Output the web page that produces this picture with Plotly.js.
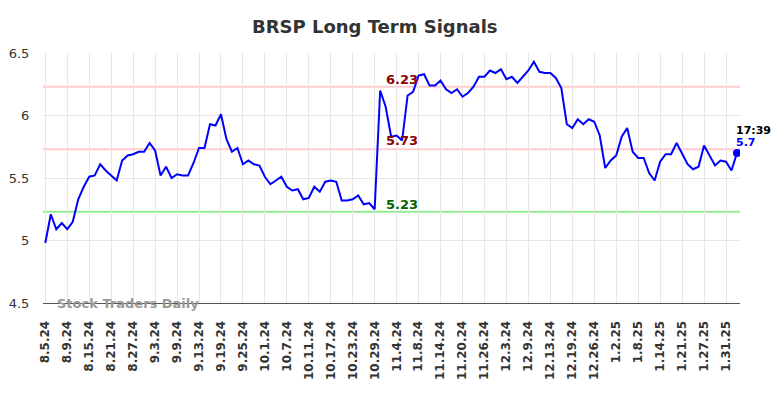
<!DOCTYPE html>
<html>
<head>
<meta charset="utf-8">
<script src="https://cdn.plot.ly/plotly-3.0.1.min.js"></script>
<style>html,body{margin:0;padding:0;background:#fff;}#chart{width:784px;height:398px;}</style>
</head>
<body>
<div id="chart"></div>
<script>
// Trading-day categories
var dates = [
 '8.5.24','8.6.24','8.7.24','8.8.24','8.9.24','8.12.24','8.13.24','8.14.24','8.15.24','8.16.24',
 '8.19.24','8.20.24','8.21.24','8.22.24','8.23.24','8.26.24','8.27.24','8.28.24','8.29.24','8.30.24',
 '9.3.24','9.4.24','9.5.24','9.6.24','9.9.24','9.10.24','9.11.24','9.12.24','9.13.24','9.16.24',
 '9.17.24','9.18.24','9.19.24','9.20.24','9.23.24','9.24.24','9.25.24','9.26.24','9.27.24','9.30.24',
 '10.1.24','10.2.24','10.3.24','10.4.24','10.7.24','10.8.24','10.9.24','10.10.24','10.11.24','10.14.24',
 '10.15.24','10.16.24','10.17.24','10.18.24','10.21.24','10.22.24','10.23.24','10.24.24','10.25.24','10.28.24',
 '10.29.24','10.30.24','10.31.24','11.1.24','11.4.24','11.5.24','11.6.24','11.7.24','11.8.24','11.11.24',
 '11.12.24','11.13.24','11.14.24','11.15.24','11.18.24','11.19.24','11.20.24','11.21.24','11.22.24','11.25.24',
 '11.26.24','11.27.24','11.29.24','12.2.24','12.3.24','12.4.24','12.5.24','12.6.24','12.9.24','12.10.24',
 '12.11.24','12.12.24','12.13.24','12.16.24','12.17.24','12.18.24','12.19.24','12.20.24','12.23.24','12.24.24',
 '12.26.24','12.27.24','12.30.24','12.31.24','1.2.25','1.3.25','1.6.25','1.7.25','1.8.25','1.9.25',
 '1.10.25','1.13.25','1.14.25','1.15.25','1.16.25','1.17.25','1.21.25','1.22.25','1.23.25','1.24.25',
 '1.27.25','1.28.25','1.29.25','1.30.25','1.31.25','2.3.25','2.4.25'
];
var prices = [
 4.98,5.21,5.09,5.14,5.09,5.15,5.33,5.43,5.51,5.52,
 5.61,5.56,5.52,5.48,5.64,5.68,5.69,5.71,5.71,5.78,
 5.72,5.52,5.59,5.50,5.53,5.52,5.52,5.62,5.74,5.74,
 5.93,5.92,6.01,5.81,5.71,5.74,5.61,5.64,5.61,5.60,
 5.51,5.45,5.48,5.51,5.43,5.40,5.41,5.33,5.34,5.43,
 5.39,5.47,5.48,5.47,5.32,5.32,5.33,5.36,5.29,5.30,
 5.25,6.20,6.07,5.83,5.84,5.80,6.16,6.19,6.32,6.33,
 6.24,6.24,6.28,6.21,6.18,6.21,6.15,6.18,6.23,6.31,
 6.31,6.36,6.34,6.37,6.29,6.31,6.26,6.31,6.36,6.43,
 6.35,6.34,6.34,6.30,6.22,5.93,5.90,5.97,5.93,5.97,
 5.95,5.84,5.58,5.64,5.68,5.83,5.90,5.71,5.66,5.66,
 5.54,5.48,5.63,5.69,5.69,5.78,5.70,5.61,5.57,5.59,
 5.76,5.68,5.60,5.64,5.63,5.56,5.70
];
var resistanceHigh = 6.23;
var resistanceMid = 5.73;
var support = 5.23;
var lastTime = '17:39';
var yTicks = [4.5, 5, 5.5, 6, 6.5];
var yTickText = ['4.5', '5', '5.5', '6', '6.5'];
var labelCat = '11.5.24';

var n = prices.length;
var lastDate = dates[n - 1];
var lastPrice = prices[n - 1];

var traces = [
  {x: dates, y: prices, type: 'scatter', mode: 'lines',
   line: {color: '#0000ff', width: 2}, hoverinfo: 'x+y'},
  {x: [lastDate], y: [lastPrice], type: 'scatter', mode: 'markers',
   marker: {color: '#0000ff', size: 8}, hoverinfo: 'x+y'}
];

function hline(v, c) {
  return {type: 'line', xref: 'paper', x0: 0, x1: 1, yref: 'y', y0: v, y1: v,
          line: {color: c, width: 2}, layer: 'below'};
}

var layout = {
  width: 784, height: 398,
  margin: {l: 43, r: 44, t: 53, b: 95},
  paper_bgcolor: '#ffffff', plot_bgcolor: '#ffffff',
  showlegend: false,
  font: {family: 'DejaVu Sans', color: '#333333'},
  title: {text: '<b>BRSP Long Term Signals</b>', x: 0.478, xanchor: 'center',
          y: 0.932, yanchor: 'middle', font: {size: 18, color: '#333333', family: 'DejaVu Sans'}},
  xaxis: {
    type: 'category', range: [-0.42, 126.55],
    tickmode: 'linear', tick0: 0, dtick: 4,
    tickangle: -90, tickfont: {size: 12, color: '#333333', family: 'DejaVu Sans', weight: 'bold'},
    showgrid: true, gridcolor: '#e6e6e6', gridwidth: 1,
    showline: true, linecolor: '#555555', linewidth: 1,
    ticks: 'outside', ticklen: 12, tickcolor: 'rgba(0,0,0,0)',
    zeroline: false, fixedrange: true
  },
  yaxis: {
    range: [4.5, 6.5], tickmode: 'array', tickvals: yTicks, ticktext: yTickText,
    tickfont: {size: 13, color: '#333333', family: 'DejaVu Sans'},
    showgrid: true, gridcolor: '#e6e6e6', gridwidth: 1,
    showline: false, zeroline: false,
    ticks: 'outside', ticklen: 10, tickcolor: 'rgba(0,0,0,0)', fixedrange: true
  },
  shapes: [hline(resistanceHigh, '#ffcccc'), hline(resistanceMid, '#ffcccc'), hline(support, '#90ee90')],
  annotations: [
    {x: labelCat, y: resistanceHigh, xref: 'x', yref: 'y', text: '<b>' + resistanceHigh.toFixed(2) + '</b>',
     showarrow: false, xanchor: 'center', yanchor: 'bottom', yshift: -2,
     font: {size: 13, color: '#8b0000', family: 'DejaVu Sans'}},
    {x: labelCat, y: resistanceMid, xref: 'x', yref: 'y', text: '<b>' + resistanceMid.toFixed(2) + '</b>',
     showarrow: false, xanchor: 'center', yanchor: 'bottom', yshift: -1,
     font: {size: 13, color: '#8b0000', family: 'DejaVu Sans'}},
    {x: labelCat, y: support, xref: 'x', yref: 'y', text: '<b>' + support.toFixed(2) + '</b>',
     showarrow: false, xanchor: 'center', yanchor: 'bottom', yshift: -2,
     font: {size: 13, color: '#006400', family: 'DejaVu Sans'}},
    {x: lastDate, y: lastPrice, xref: 'x', yref: 'y', text: '<b>' + lastTime + '</b>',
     showarrow: false, xanchor: 'left', yanchor: 'bottom', xshift: -3, yshift: 14,
     font: {size: 11, color: '#000000', family: 'DejaVu Sans'}},
    {x: lastDate, y: lastPrice, xref: 'x', yref: 'y', text: '<b>' + lastPrice + '</b>',
     showarrow: false, xanchor: 'left', yanchor: 'bottom', xshift: -3, yshift: 2,
     font: {size: 11, color: '#0000ff', family: 'DejaVu Sans'}},
    {xref: 'paper', yref: 'paper', x: 0.017, y: 0, text: '<b>Stock Traders Daily</b>',
     showarrow: false, xanchor: 'left', yanchor: 'middle',
     font: {size: 13, color: '#999999', family: 'DejaVu Sans'}}
  ]
};

Plotly.newPlot('chart', traces, layout, {displayModeBar: false, staticPlot: true});
</script>
</body>
</html>
